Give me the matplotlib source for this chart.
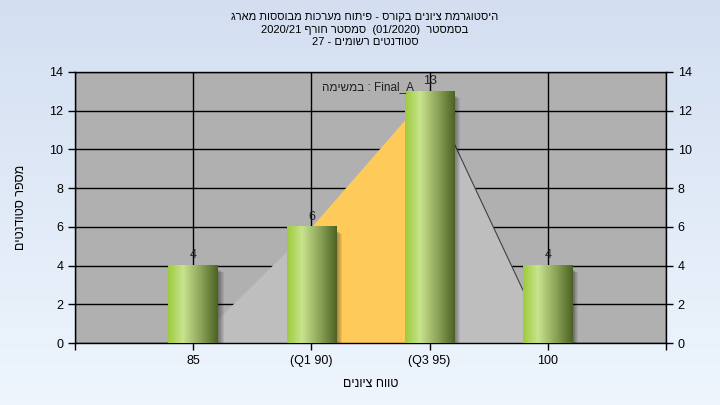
import numpy as np
import matplotlib.pyplot as plt
from matplotlib.colors import LinearSegmentedColormap

plt.rcParams['font.family'] = ['Liberation Sans', 'DejaVu Sans']


def heb(s):
    # matplotlib has no bidi support: give Hebrew in visual order
    return s[::-1]


# data
categories = ['85', '(Q1 90)', '(Q3 95)', '100']
students = [4, 6, 13, 4]
curve = [0, 6, 13, 0]      # background distribution polygon
q_range = [1, 2]           # Q1 .. Q3 category indices (orange)

title = '\n'.join([
    heb('היסטוגרמת ציונים בקורס - פיתוח מערכות מבוססות מארג'),
    '2020/21 ' + heb('סמסטר חורף') + '  (01/2020)  ' + heb('בסמסטר'),
    '27 - ' + heb('סטודנטים רשומים'),
])
task_label = heb('במשימה') + ' : Final_A'
xlabel = heb('טווח ציונים')
ylabel = heb('מספר סטודנטים')

fig = plt.figure(figsize=(7.2, 4.05), dpi=100)

# light blue background gradient
bg = fig.add_axes([0, 0, 1, 1], zorder=-10)
bg_cmap = LinearSegmentedColormap.from_list('bg', ['#d3dff1', '#eef5fd'])
bg.imshow(np.linspace(0, 1, 100).reshape(-1, 1), aspect='auto', cmap=bg_cmap,
          extent=[0, 1, 0, 1])
bg.axis('off')

ax = fig.add_axes([75 / 720, 62 / 405, 591 / 720, 271 / 405])
ax.set_facecolor('#b0b0b0')

x = np.arange(len(categories))

# grid below the areas
ax.set_axisbelow(True)
ax.grid(True, color='black', linewidth=1, zorder=0)

ax.fill_between(x, curve, color='#bebebe', zorder=1, linewidth=0)
qx = x[q_range[0]:q_range[1] + 1]
qy = curve[q_range[0]:q_range[1] + 1]
ax.fill_between(qx, qy, color='#fecb5a', zorder=1.5, linewidth=0)
ax.plot(x[2:4], curve[2:4], color='#404040', linewidth=0.8, zorder=1.6)

# bars with cylinder-like gradient and soft shadow
bar_cmap = LinearSegmentedColormap.from_list(
    'bar', [(0, '#9ccb3c'), (0.3, '#c8e38e'), (0.65, '#8ea55a'), (1, '#4b6224')])
grad = np.linspace(0, 1, 256).reshape(1, -1)
w = 0.42
for xi, v in zip(x, students):
    for k in range(6):
        off = 0.008 * (k + 1)
        ax.add_patch(plt.Rectangle((xi - w / 2 + off, -0.1), w, v - 0.1 - 0.03 * k,
                                   color='black', alpha=0.07, lw=0, zorder=2))
    ax.imshow(grad, cmap=bar_cmap, aspect='auto', zorder=3,
              extent=[xi - w / 2, xi + w / 2, 0, v])
    ax.annotate(str(v), (xi, v), xytext=(0, 3), textcoords='offset points',
                ha='center', va='bottom', fontsize=9, color='#202030',
                zorder=5, annotation_clip=False)

ax.set_xlim(-1, 4)
ax.set_ylim(0, 14)

ax.text(1.48, 13.2, task_label, ha='center', va='center', fontsize=8.5,
        color='#202020', zorder=5)

ax.set_xticks([-1, 0, 1, 2, 3, 4])
ax.set_xticklabels([''] + categories + [''])
ax.set_yticks(range(0, 15, 2))
ax.tick_params(axis='both', direction='out', length=5, width=1,
               labelsize=9, colors='black')
ax.tick_params(axis='y', right=True, labelright=True)
for s in ax.spines.values():
    s.set_linewidth(1)

ax.set_xlabel(xlabel, fontsize=9, labelpad=8)
ax.set_ylabel(ylabel, fontsize=9, labelpad=16)

fig.text(0.507, 0.97, title, ha='center', va='top', fontsize=8,
         linespacing=1.3)

fig.savefig('out.png', dpi=100)
